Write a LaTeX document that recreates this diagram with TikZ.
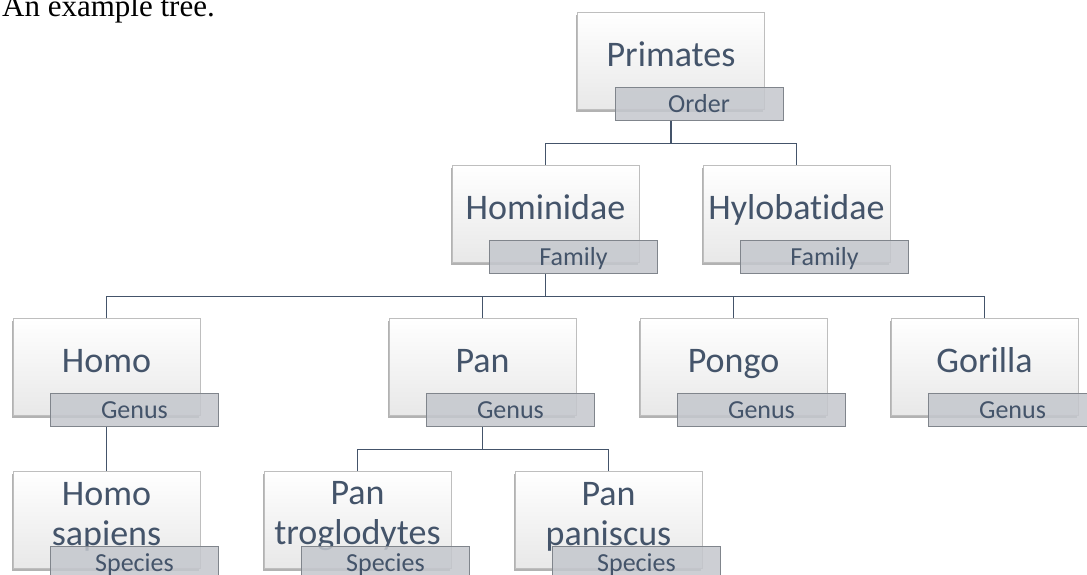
\documentclass[tikz,border=0pt]{standalone}
\usepackage{fontspec}
\setmainfont{Carlito}[Ligatures={NoCommon}]
\newfontfamily\titlefont{Liberation Serif}
\usetikzlibrary{shadows}
\definecolor{txt}{RGB}{68,84,106}
\definecolor{boxedge}{RGB}{190,190,190}
\definecolor{rankfill}{RGB}{196,199,205}
\definecolor{rankedge}{RGB}{128,133,140}
\pgfdeclarelayer{bg}
\pgfsetlayers{bg,main}
\tikzset{
  taxbox/.style={rectangle, draw=boxedge, line width=0.8pt,
    top color=white, middle color=white, bottom color=black!9,
    minimum width=187pt, minimum height=97pt, inner sep=0pt,
    drop shadow={shadow xshift=-1.5pt, shadow yshift=-2.5pt, opacity=0.3, fill=black}},
  taxtext/.style={text=txt, align=center, inner sep=0pt,
    font=\fontsize{36}{40}\selectfont},
  onelinetext/.style={text height=26pt, text depth=8pt},
  rankbox/.style={rectangle, draw=rankedge, line width=0.8pt, fill=rankfill, fill opacity=0.85,
    text opacity=1, text=txt, minimum width=168pt, minimum height=33pt, inner sep=0pt,
    text height=17pt, text depth=0pt, font=\fontsize{26}{28}\selectfont},
  conn/.style={draw=txt, line width=1.1pt},
}
% #1 name, #2 position, #3 text style, #4 text shift, #5 text, #6 rank
\newcommand\taxnode[6]{%
  \node[taxbox] (#1) at (#2) {};
  \node[taxtext,#3] (#1t) at ([yshift=#4]#1.center) {#5};
  \node[rankbox] (#1r) at ([xshift=28pt,yshift=-43pt]#1.center) {#6};
}
\begin{document}
\begin{tikzpicture}[x=1pt,y=-1pt]
\useasboundingbox (0,0) rectangle (1087,574);
\clip (0,0) rectangle (1087,574);
\node[anchor=base west, inner sep=0pt, font=\titlefont\fontsize{31}{31}\selectfont] (title) at (2,16) {An example tree.};

\taxnode{prim}{671,61}{onelinetext}{3.5pt}{Primates}{Order}
\taxnode{homin}{545.5,213.5}{onelinetext}{3.5pt}{Hominidae}{Family}
\taxnode{hylo}{796.5,213.5}{onelinetext}{3.5pt}{Hylobatidae}{Family}
\taxnode{homo}{106.5,366.5}{onelinetext}{3.5pt}{Homo}{Genus}
\taxnode{pan}{482.5,366.5}{onelinetext}{3.5pt}{Pan}{Genus}
\taxnode{pongo}{733.5,366.5}{onelinetext}{3.5pt}{Pongo}{Genus}
\taxnode{gor}{984.5,366.5}{onelinetext}{3.5pt}{Gorilla}{Genus}
\taxnode{hs}{106.5,519.5}{}{3pt}{Homo\\sapiens}{Species}
\taxnode{pt}{357.5,519.5}{}{3pt}{Pan\\troglodytes}{Species}
\taxnode{pp}{608.5,519.5}{}{3pt}{Pan\\paniscus}{Species}

\begin{pgfonlayer}{bg}
\draw[conn] (prim.center |- primr.south) -- ++(0,23) -| (homin.north);
\draw[conn] (prim.center |- primr.south) -- ++(0,23) -| (hylo.north);
\draw[conn] (homin.center |- hominr.south) -- ++(0,23) -| (homo.north);
\draw[conn] (homin.center |- hominr.south) -- ++(0,23) -| (pan.north);
\draw[conn] (homin.center |- hominr.south) -- ++(0,23) -| (pongo.north);
\draw[conn] (homin.center |- hominr.south) -- ++(0,23) -| (gor.north);
\draw[conn] (homo.center |- homor.south) -- (hs.north);
\draw[conn] (pan.center |- panr.south) -- ++(0,23) -| (pt.north);
\draw[conn] (pan.center |- panr.south) -- ++(0,23) -| (pp.north);
\end{pgfonlayer}
\end{tikzpicture}
\end{document}
